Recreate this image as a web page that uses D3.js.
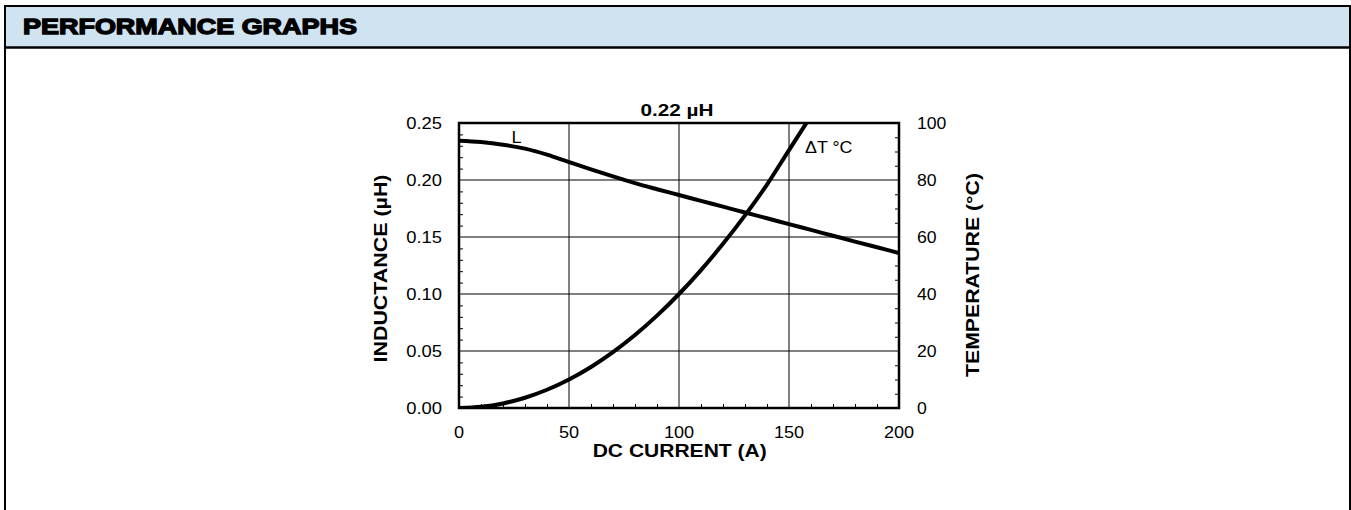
<!DOCTYPE html>
<html lang="en">
<head>
<meta charset="UTF-8">
<title>Performance Graphs - 0.22 uH</title>
<script src="https://d3js.org/d3.v7.min.js"></script>
<style>
    body { margin: 0; background: #fff; }
    svg text { font-family: "Liberation Sans", Arial, Helvetica, sans-serif; fill: #000; }
</style>
</head>
<body>
<svg id="chart" width="1351" height="510"></svg>
<script>
// data
const currentA = [0, 10, 20, 30, 40, 50, 60, 70, 80, 90, 100, 110, 120, 130, 140, 150, 160, 170, 180, 190, 200];
const inductance = [0.2345, 0.2333, 0.2310, 0.2275, 0.2222, 0.2157, 0.2093, 0.2031, 0.1972, 0.1919, 0.1868,
                    0.1817, 0.1766, 0.1715, 0.1664, 0.1613, 0.1562, 0.1511, 0.1460, 0.1410, 0.1360];
const tempCurrent = [0, 10, 20, 30, 40, 50, 60, 70, 80, 90, 100, 110, 120, 130, 140, 150, 160];
const tempRise = [0, 0.4, 1.6, 3.6, 6.4, 10, 14.4, 19.6, 25.6, 32.4, 40, 48.4, 57.6, 67.6, 78.4, 90.5, 102.5];
const xTicks = [0, 50, 100, 150, 200];
const yLeftTicks = [0, 0.05, 0.10, 0.15, 0.20, 0.25];
const yRightTicks = [0, 20, 40, 60, 80, 100];

const svg = d3.select("#chart");

// the lettering in the picture is a bit wider than Liberation Sans
function widen(sel, k) {
    sel.each(function () {
        const w = this.getComputedTextLength();
        d3.select(this).attr("textLength", w * k).attr("lengthAdjust", "spacingAndGlyphs");
    });
    return sel;
}

// outer frame + header band
svg.append("rect").attr("x", 5).attr("y", 6).attr("width", 1345).attr("height", 41)
    .attr("fill", "#cfe3f1");
svg.append("path").attr("d", "M5,520 V6 H1350 V520").attr("fill", "none")
    .attr("stroke", "#000").attr("stroke-width", 2);
svg.append("line").attr("x1", 5).attr("x2", 1350).attr("y1", 47.5).attr("y2", 47.5)
    .attr("stroke", "#000").attr("stroke-width", 2.3);
svg.append("text").attr("x", 23).attr("y", 34)
    .style("font-size", "21.5px").style("font-weight", "bold")
    .attr("stroke", "#000").attr("stroke-width", 1.3)
    .attr("textLength", 334).attr("lengthAdjust", "spacingAndGlyphs")
    .text("PERFORMANCE GRAPHS");

// plot area
const pLeft = 459, pRight = 899, pTop = 123, pBottom = 408;
const x = d3.scaleLinear().domain([0, 200]).range([pLeft, pRight]);
const yL = d3.scaleLinear().domain([0, 0.25]).range([pBottom, pTop]);
const yR = d3.scaleLinear().domain([0, 100]).range([pBottom, pTop]);

const grid = svg.append("g");
grid.selectAll(".vx").data(xTicks.slice(1, -1)).join("line")
    .attr("x1", d => x(d)).attr("x2", d => x(d)).attr("y1", pTop).attr("y2", pBottom)
    .attr("stroke", "#000").attr("stroke-width", 1);
grid.selectAll(".hy").data(yLeftTicks.slice(1, -1)).join("line")
    .attr("x1", pLeft).attr("x2", pRight).attr("y1", d => yL(d)).attr("y2", d => yL(d))
    .attr("stroke", "#000").attr("stroke-width", 1);

// axes (minor ticks pointing inward)
const xAxis = svg.append("g").attr("transform", `translate(0,${pBottom})`)
    .call(d3.axisBottom(x).tickValues(d3.range(10, 200, 10).filter(d => d % 50))
        .tickSize(-4).tickFormat(""));
const leftAxis = svg.append("g").attr("transform", `translate(${pLeft},0)`)
    .call(d3.axisLeft(yL).tickValues(d3.range(1, 25).filter(d => d % 5).map(d => d / 100))
        .tickSize(-4).tickFormat(""));
const rightAxis = svg.append("g").attr("transform", `translate(${pRight},0)`)
    .call(d3.axisRight(yR).tickValues(d3.range(5, 100, 5).filter(d => d % 20))
        .tickSize(-4).tickFormat(""));
[xAxis, leftAxis, rightAxis].forEach(g => {
    g.select(".domain").remove();
    g.selectAll("line").attr("stroke", "#000").attr("stroke-width", 1);
});

// tick labels
widen(svg.append("g").selectAll("text").data(xTicks).join("text")
    .attr("x", d => x(d)).attr("y", 438).attr("text-anchor", "middle")
    .style("font-size", "16px").text(d => d), 1.13);
widen(svg.append("g").selectAll("text").data(yLeftTicks).join("text")
    .attr("x", 442).attr("y", d => yL(d) + 6).attr("text-anchor", "end")
    .style("font-size", "16px").text(d => d.toFixed(2)), 1.15);
widen(svg.append("g").selectAll("text").data(yRightTicks).join("text")
    .attr("x", 917).attr("y", d => yR(d) + 6).attr("text-anchor", "start")
    .style("font-size", "16px").text(d => d), 1.1);

// curves
svg.append("clipPath").attr("id", "plotclip").append("rect")
    .attr("x", pLeft).attr("y", pTop).attr("width", pRight - pLeft).attr("height", pBottom - pTop);

const lLine = d3.line().x((d, i) => x(currentA[i])).y(d => yL(d)).curve(d3.curveMonotoneX);
svg.append("path").attr("d", lLine(inductance)).attr("fill", "none")
    .attr("stroke", "#000").attr("stroke-width", 4).attr("clip-path", "url(#plotclip)");

const tLine = d3.line().x((d, i) => x(tempCurrent[i])).y(d => yR(d)).curve(d3.curveMonotoneX);
svg.append("path").attr("d", tLine(tempRise)).attr("fill", "none")
    .attr("stroke", "#000").attr("stroke-width", 4).attr("clip-path", "url(#plotclip)");

// frame of plot
svg.append("rect").attr("x", pLeft).attr("y", pTop).attr("width", pRight - pLeft).attr("height", pBottom - pTop)
    .attr("fill", "none").attr("stroke", "#000").attr("stroke-width", 2.5);

// curve labels
widen(svg.append("text").attr("x", 511.5).attr("y", 142.7).style("font-size", "16.5px").text("L"), 1.1);
svg.append("text").attr("x", 805).attr("y", 153.3).style("font-size", "17px")
    .attr("textLength", 47.5).attr("lengthAdjust", "spacingAndGlyphs").text("\u0394T \u00b0C");

// titles
svg.append("text").attr("x", 677).attr("y", 115.5).attr("text-anchor", "middle")
    .style("font-size", "17px").style("font-weight", "bold")
    .attr("textLength", 73).attr("lengthAdjust", "spacingAndGlyphs").text("0.22 \u00b5H");
svg.append("text").attr("x", 679.7).attr("y", 457).attr("text-anchor", "middle")
    .style("font-size", "17.5px").style("font-weight", "bold")
    .attr("textLength", 174).attr("lengthAdjust", "spacingAndGlyphs").text("DC CURRENT (A)");
svg.append("text").attr("transform", "translate(386.5,268.5) rotate(-90)")
    .attr("text-anchor", "middle").style("font-size", "17.5px").style("font-weight", "bold")
    .attr("textLength", 188).attr("lengthAdjust", "spacingAndGlyphs")
    .text("INDUCTANCE (\u00b5H)");
svg.append("text").attr("transform", "translate(978.5,275) rotate(-90)")
    .attr("text-anchor", "middle").style("font-size", "17.5px").style("font-weight", "bold")
    .attr("textLength", 204).attr("lengthAdjust", "spacingAndGlyphs")
    .text("TEMPERATURE (\u00b0C)");
</script>
</body>
</html>
